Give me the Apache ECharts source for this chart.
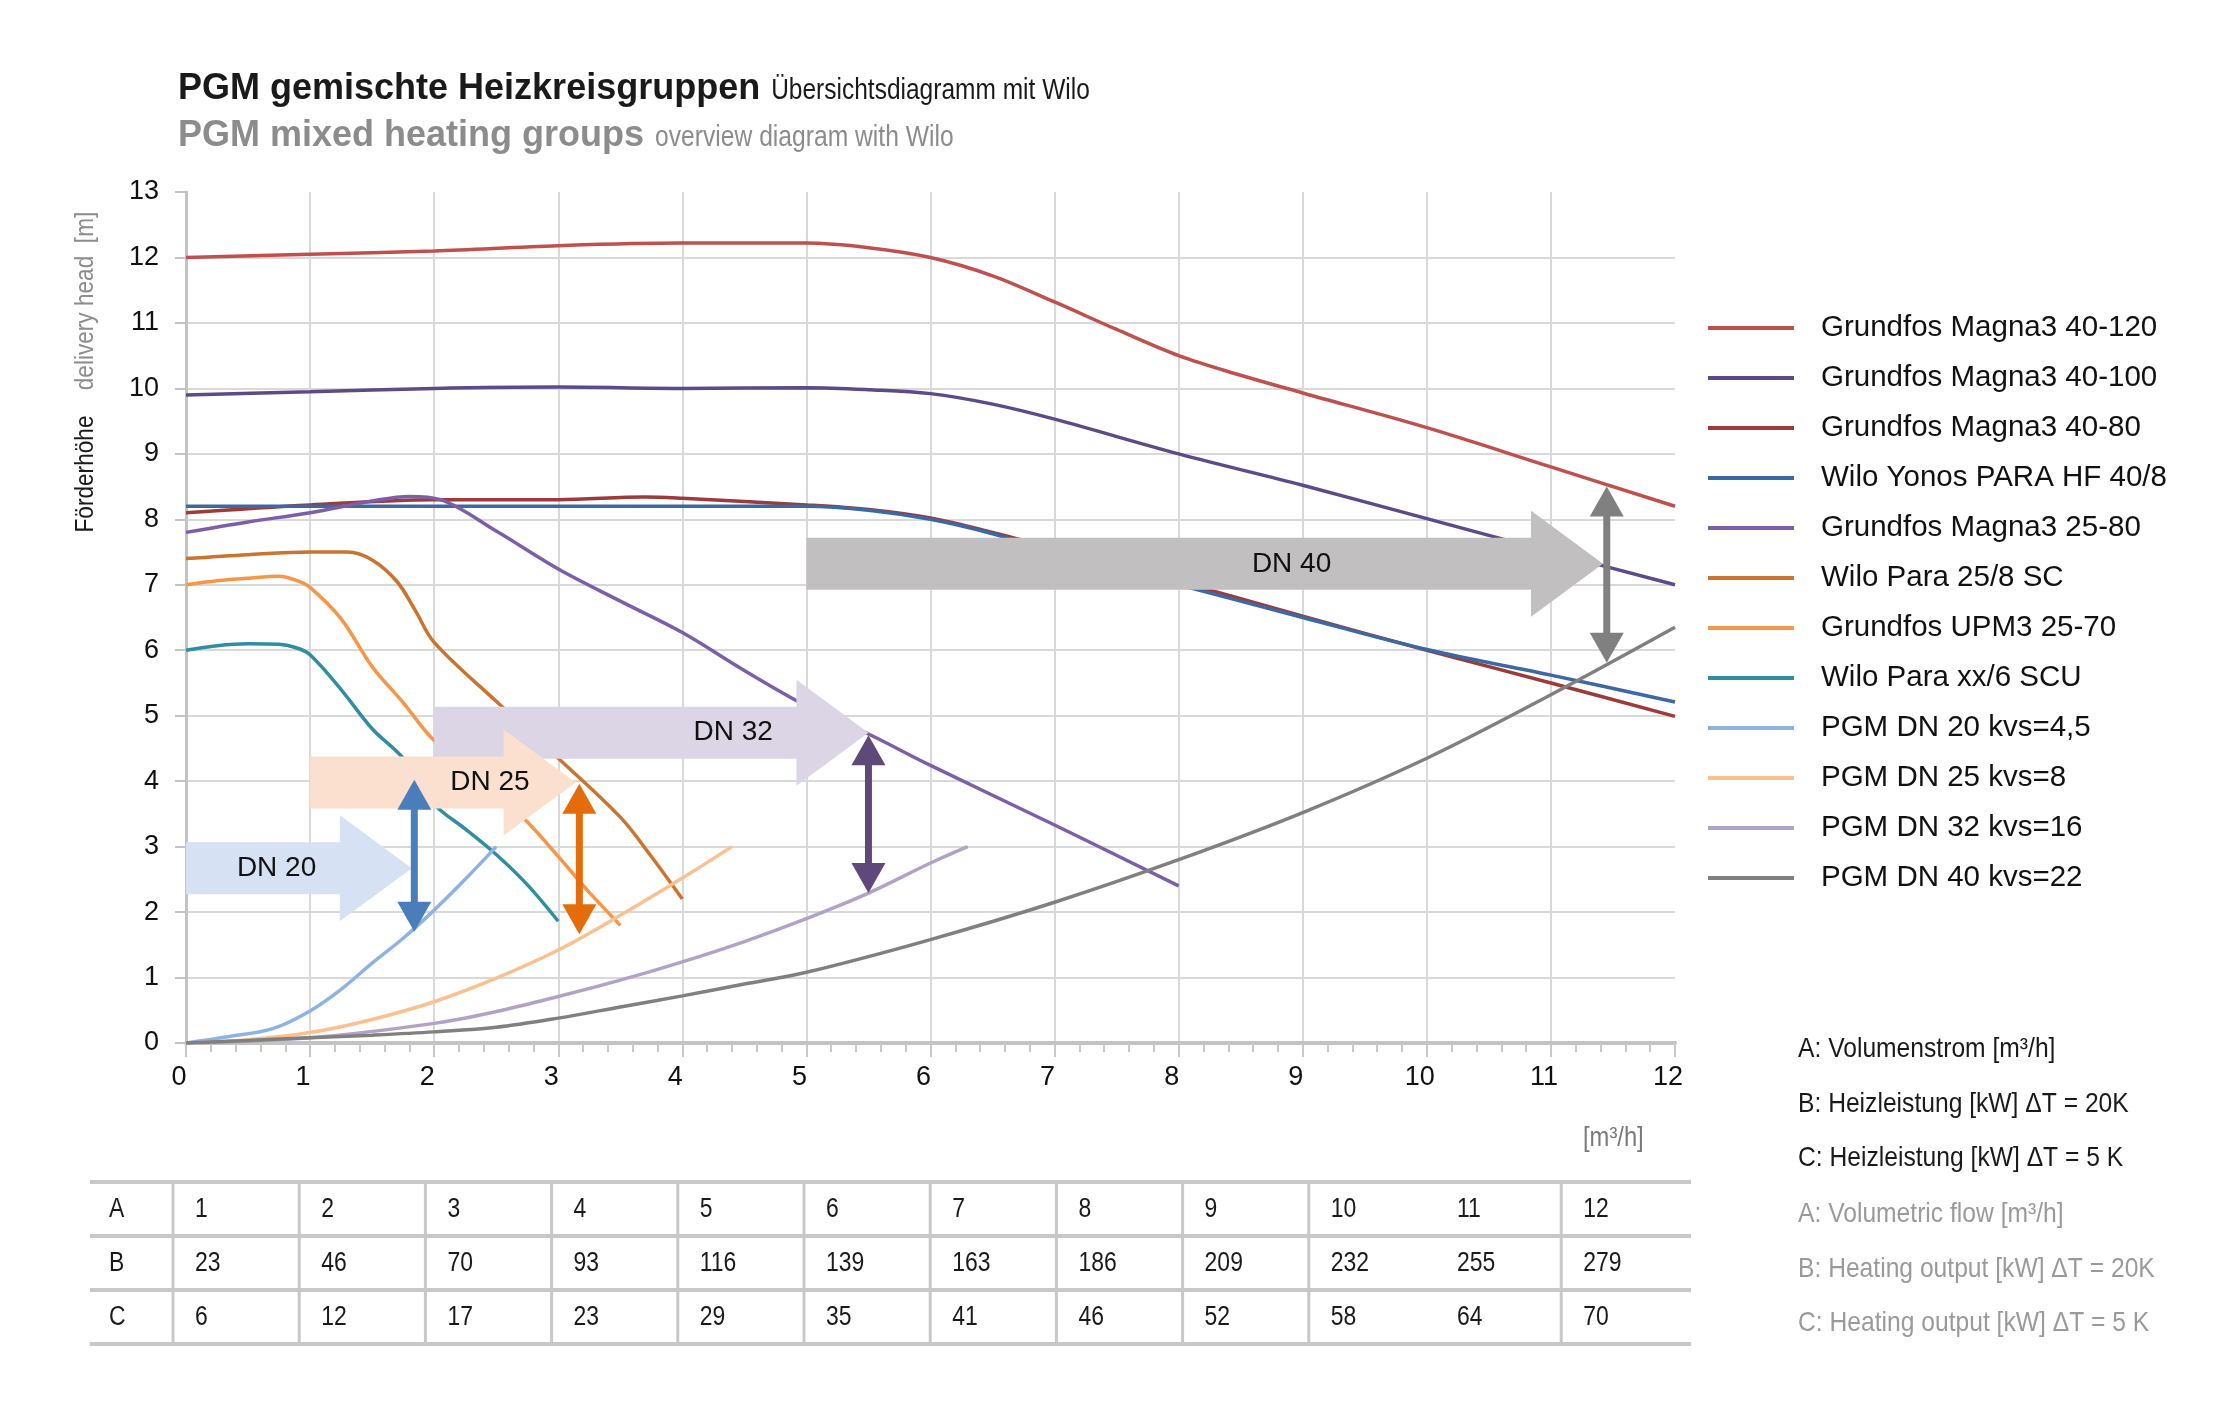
<!DOCTYPE html>
<html><head><meta charset="utf-8">
<script src="https://cdn.jsdelivr.net/npm/echarts@6.0.0/dist/echarts.min.js"></script>
<style>html,body{margin:0;padding:0;background:#fff;}#c{width:2235px;height:1420px;}</style>
</head><body><div id="c"></div>
<script>
// ---------- data ----------
const seriesNames = ['Grundfos Magna3 40-120','Grundfos Magna3 40-100','Grundfos Magna3 40-80','Wilo Yonos PARA HF 40/8','Grundfos Magna3 25-80','Wilo Para 25/8 SC','Grundfos UPM3 25-70','Wilo Para xx/6 SCU','PGM DN 20 kvs=4,5','PGM DN 25 kvs=8','PGM DN 32 kvs=16','PGM DN 40 kvs=22'];
const magna40_120 = [[0,12.0],[1,12.05],[2,12.1],[3,12.18],[4,12.22],[5,12.22],[5.5,12.15],[6,12.0],[6.5,11.72],[7,11.32],[7.5,10.9],[8,10.5],[8.5,10.2],[9,9.93],[10,9.4],[11,8.8],[12,8.2]];
const magna40_100 = [[0,9.9],[1,9.95],[2,10.0],[3,10.02],[4,10.0],[5,10.01],[5.5,9.98],[6,9.92],[6.5,9.76],[7,9.53],[8,9.0],[9,8.52],[10,8.01],[11,7.5],[12,7.0]];
const magna40_80 = [[0,8.1],[1,8.22],[2,8.3],[3,8.3],[3.7,8.34],[4,8.32],[5,8.22],[5.5,8.15],[6,8.02],[6.5,7.8],[7,7.55],[8,7.05],[9,6.52],[10,6.0],[11,5.5],[12,4.99]];
const yonos40_8 = [[0,8.2],[1,8.2],[2,8.2],[3,8.2],[4,8.2],[5,8.2],[5.5,8.14],[6,8.0],[6.5,7.78],[7,7.5],[8,7.0],[9,6.5],[10,6.01],[11,5.62],[12,5.21]];
const magna25_80 = [[0,7.8],[0.5,7.96],[1,8.1],[1.5,8.28],[1.8,8.35],[2.05,8.3],[2.5,7.82],[3,7.24],[3.5,6.75],[4,6.27],[4.5,5.69],[5,5.15],[5.5,4.72],[6,4.24],[7,3.33],[8,2.4]];
const para25_8 = [[0,7.4],[0.5,7.46],[1,7.5],[1.3,7.5],[1.5,7.38],[1.7,7.05],[1.85,6.6],[2,6.12],[2.5,5.22],[3,4.35],[3.5,3.45],[3.75,2.85],[4,2.2]];
const upm3_25_70 = [[0,7.0],[0.25,7.06],[0.5,7.1],[0.75,7.13],[0.9,7.06],[1,6.96],[1.25,6.48],[1.5,5.75],[1.75,5.2],[2,4.62],[2.5,3.82],[2.75,3.38],[3,2.85],[3.25,2.3],[3.5,1.8]];
const paraXX6 = [[0,6.0],[0.25,6.07],[0.5,6.1],[0.75,6.09],[0.9,6.03],[1,5.93],[1.25,5.4],[1.5,4.8],[1.75,4.35],[2,3.65],[2.25,3.27],[2.5,2.88],[2.75,2.42],[3,1.86]];
const pgmDN20 = [[0,0],[0.35,0.1],[0.7,0.22],[1,0.49],[1.25,0.82],[1.5,1.22],[1.75,1.6],[2,2.03],[2.25,2.5],[2.5,3.0]];
const pgmDN25 = [[0,0],[0.5,0.05],[1,0.16],[1.5,0.36],[2,0.63],[2.5,0.99],[3,1.42],[3.5,1.95],[4,2.52],[4.4,3.0]];
const pgmDN32 = [[0,0],[1,0.08],[2,0.3],[2.5,0.48],[3,0.71],[3.5,0.96],[4,1.24],[4.5,1.55],[5,1.9],[5.5,2.29],[6,2.75],[6.3,3.0]];
const pgmDN40 = [[0,0],[0.5,0.04],[1,0.08],[1.5,0.12],[2,0.17],[2.5,0.24],[3,0.38],[3.5,0.55],[4,0.72],[4.5,0.9],[5,1.08],[6,1.58],[7,2.15],[8,2.8],[9,3.52],[10,4.35],[11,5.32],[12,6.35]];

// range arrows (order = drawing order)
const arrowLabels = ['DN 40','DN 32','DN 25','DN 20'];
const arrowStartX = [5.0, 2.0, 1.0, 0.0];
const arrowTipX   = [11.42, 5.5, 3.14, 1.82];
const arrowY      = [7.32, 4.74, 3.98, 2.67];
const arrowTextX  = [8.91, 4.41, 2.45, 0.73];
// operating-range double arrows
const dimX      = [1.84, 3.17, 5.5, 11.45];
const dimTop    = [4.02, 3.96, 4.70, 8.50];
const dimBottom = [1.70, 1.66, 2.29, 5.81];

// table
const tableRowLabels = ['A','B','C'];
const flowValues = [1,2,3,4,5,6,7,8,9,10,11,12];
const heat20K = [23,46,70,93,116,139,163,186,209,232,255,279];
const heat5K = [6,12,17,23,29,35,41,46,52,58,64,70];
const notesDe = ['A: Volumenstrom [m³/h]','B: Heizleistung [kW] ΔT = 20K','C: Heizleistung [kW] ΔT = 5 K'];
const notesEn = ['A: Volumetric flow [m³/h]','B: Heating output [kW] ΔT = 20K','C: Heating output [kW] ΔT = 5 K'];

// ---------- styles ----------
const FONT = "'Liberation Sans', Arial, Helvetica, sans-serif";
const lineColors = ['#c0504d','#5e4a86','#9b3b3a','#3c68a4','#7d5fa8','#c9742f','#f79646','#318ea0','#8db3e2','#fac090','#b3a2c7','#808080'];
const arrowColors = ['#c2bfc0','#dcd5e6','#fbe0cf','#d6e1f3'];
const dimColors = ['#4a7ebb','#e46c0a','#5f497a','#808080'];
const seriesData = [magna40_120,magna40_100,magna40_80,yonos40_8,magna25_80,para25_8,upm3_25_70,paraXX6,pgmDN20,pgmDN25,pgmDN32,pgmDN40];

const chart = echarts.init(document.getElementById('c'), null, {renderer:'canvas'});
const measure = (() => { const c = document.createElement('canvas').getContext('2d'); return (t, f) => { c.font = f; return c.measureText(t).width; }; })();

// condensed text helper (horizontal scale)
function ctext(x, y, text, size, k, fill, extra) {
  return Object.assign({type:'text', x:x, y:y, scaleX:k, style:{text:text, font:size + 'px ' + FONT, fill:fill, verticalAlign:'middle'}}, extra || {});
}

const graphics = [];
const TS = 36, t1f = 'bold ' + TS + 'px ' + FONT;
const t1 = 'PGM gemischte Heizkreisgruppen', t2 = 'PGM mixed heating groups';
graphics.push({type:'text', x:178, y:89, style:{text:t1, font:t1f, fill:'#1a1a1a', verticalAlign:'middle'}});
graphics.push(ctext(178 + measure(t1, t1f) + 11, 91, 'Übersichtsdiagramm mit Wilo', 29, 0.845, '#1a1a1a'));
graphics.push({type:'text', x:178, y:136, style:{text:t2, font:t1f, fill:'#8c8c8c', verticalAlign:'middle'}});
graphics.push(ctext(178 + measure(t2, t1f) + 11, 138, 'overview diagram with Wilo', 29, 0.85, '#8c8c8c'));
// y axis title (rotated, reads bottom to top)
graphics.push({type:'text', x:86, y:474, rotation:Math.PI/2, scaleX:0.87, style:{text:'Förderhöhe', font:'26px ' + FONT, fill:'#1a1a1a', align:'center', verticalAlign:'middle'}});
graphics.push({type:'text', x:86, y:301, rotation:Math.PI/2, scaleX:0.87, style:{text:'delivery head  [m]', font:'26px ' + FONT, fill:'#8c8c8c', align:'center', verticalAlign:'middle'}});
// x unit
graphics.push(ctext(1583, 1139, '[m³/h]', 27, 0.88, '#7a7a7a'));
// notes
notesDe.forEach((t,i) => graphics.push(ctext(1798, 1049 + i*54.8, t, 28, 0.88, '#1a1a1a')));
notesEn.forEach((t,i) => graphics.push(ctext(1798, 1214 + i*54.8, t, 28, 0.88, '#9a9a9a')));
// table
const TL = 90, TR = 1691, C0 = 173, CW = 126.2, rowLines = [1182,1236,1290,1344];
rowLines.forEach(y => graphics.push({type:'line', shape:{x1:TL,y1:y,x2:TR,y2:y}, style:{stroke:'#c8c8c8', lineWidth:4}}));
flowValues.forEach((v,k) => { if (k === 10) return; const x = C0 + k*CW; graphics.push({type:'line', shape:{x1:x,y1:rowLines[0],x2:x,y2:rowLines[3]}, style:{stroke:'#c8c8c8', lineWidth:3}}); });
const tableRows = [flowValues, heat20K, heat5K];
tableRows.forEach((row,r) => {
  const yc = (rowLines[r] + rowLines[r+1]) / 2 + 1;
  graphics.push(ctext(109, yc, tableRowLabels[r], 27, 0.85, '#1a1a1a'));
  row.forEach((v,k) => graphics.push(ctext(C0 + k*CW + 22, yc, String(v), 27, 0.85, '#1a1a1a')));
});

const lineSeries = seriesNames.map((n,i) => ({
  name:n, type:'line', data:seriesData[i], symbol:'none', smooth:0.35, z:2,
  lineStyle:{color:lineColors[i], width:3.5}, itemStyle:{color:lineColors[i]}, emphasis:{disabled:true}, animation:false
}));

const BODY = 26, HEAD = 53, HEADLEN = 72;
const arrowSeries = {
  type:'custom', z:5, animation:false, silent:true,
  data: arrowLabels.map((l,i) => [arrowStartX[i], arrowTipX[i], arrowY[i], arrowTextX[i]]),
  encode:{x:[0,1,3], y:2},
  renderItem:(params, api) => {
    const i = params.dataIndex;
    const s = api.coord([api.value(0), api.value(2)]);
    const t = api.coord([api.value(1), api.value(2)]);
    const tc = api.coord([api.value(3), api.value(2)]);
    const y = s[1], hx = t[0] - HEADLEN;
    return {type:'group', children:[
      {type:'polygon', shape:{points:[[s[0],y-BODY],[hx,y-BODY],[hx,y-HEAD],[t[0],y],[hx,y+HEAD],[hx,y+BODY],[s[0],y+BODY]]}, style:{fill:arrowColors[i]}},
      {type:'text', x:tc[0], y:tc[1], style:{text:arrowLabels[i], font:'28px ' + FONT, fill:'#111', align:'center', verticalAlign:'middle'}}
    ]};
  }
};
const DHW = 17, DHL = 30, DSW = 7;
const dimSeries = {
  type:'custom', z:6, animation:false, silent:true,
  data: dimX.map((x,i) => [x, dimTop[i], dimBottom[i]]),
  encode:{x:0, y:[1,2]},
  renderItem:(params, api) => {
    const i = params.dataIndex;
    const a = api.coord([api.value(0), api.value(1)]);
    const b = api.coord([api.value(0), api.value(2)]);
    const x = a[0], col = dimColors[i];
    return {type:'group', children:[
      {type:'rect', shape:{x:x-DSW/2, y:a[1]+DHL-2, width:DSW, height:(b[1]-a[1])-2*DHL+4}, style:{fill:col}},
      {type:'polygon', shape:{points:[[x,a[1]],[x-DHW,a[1]+DHL],[x+DHW,a[1]+DHL]]}, style:{fill:col}},
      {type:'polygon', shape:{points:[[x,b[1]],[x-DHW,b[1]-DHL],[x+DHW,b[1]-DHL]]}, style:{fill:col}}
    ]};
  }
};

chart.setOption({
  backgroundColor:'#fff',
  animation:false,
  grid:{left:186, right:560, top:192, bottom:377, containLabel:false},
  xAxis:{type:'value', min:0, max:12, interval:1,
    axisLine:{show:true, onZero:false, lineStyle:{color:'#c3c3c3', width:4}},
    axisTick:{show:true, length:14, lineStyle:{color:'#c8c8c8', width:2}},
    minorTick:{show:true, splitNumber:5, length:9, lineStyle:{color:'#c8c8c8', width:2}},
    splitLine:{show:true, showMinLine:false, showMaxLine:false, lineStyle:{color:'#d9d9d9', width:2}},
    axisLabel:{fontFamily:FONT, fontSize:27, color:'#111', margin:21, padding:[0,14,0,0]}
  },
  yAxis:{type:'value', min:0, max:13, interval:1,
    axisLine:{show:true, onZero:false, lineStyle:{color:'#c3c3c3', width:3}},
    axisTick:{show:true, length:11, lineStyle:{color:'#c3c3c3', width:2}},
    splitLine:{show:true, showMinLine:false, showMaxLine:false, lineStyle:{color:'#d9d9d9', width:2}},
    axisLabel:{fontFamily:FONT, fontSize:27, color:'#111', margin:27}
  },
  legend:{orient:'vertical', left:1703, top:308, icon:'rect', itemWidth:86, itemHeight:4, itemGap:20, data:seriesNames, selectedMode:false,
    textStyle:{fontFamily:FONT, fontSize:29.5, color:'#111', lineHeight:30, padding:[0,0,0,22]}},
  graphic:graphics,
  series:[...lineSeries, arrowSeries, dimSeries]
});
</script></body></html>
